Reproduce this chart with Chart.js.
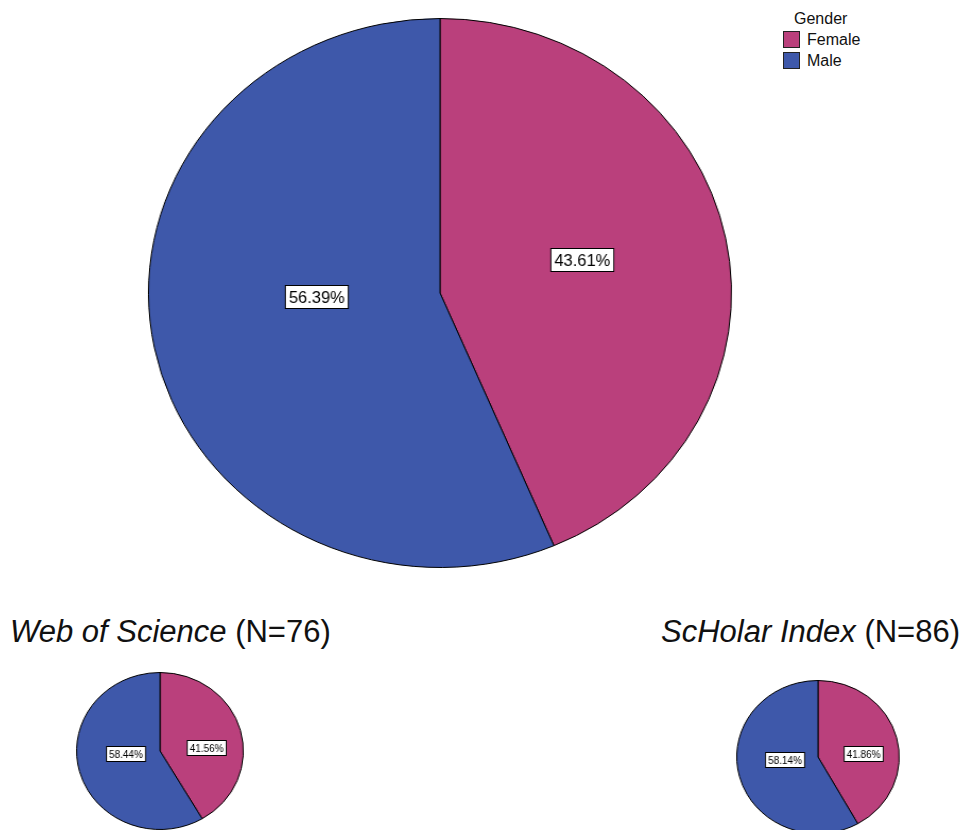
<!DOCTYPE html>
<html>
<head>
<meta charset="utf-8">
<script src="https://cdn.jsdelivr.net/npm/chart.js@4.4.0/dist/chart.umd.min.js"></script>
<style>
  body { margin: 0; background: #fff; font-family: "Liberation Sans", Arial, sans-serif; }
  #stage { position: relative; width: 968px; height: 830px; overflow: hidden; }
  .pie { position: absolute; transform-origin: 50% 50%; }
  .title { position: absolute; font-size: 31px; line-height: 30px; color: #111; white-space: nowrap; }
  #legend { position: absolute; left: 783px; top: 8px; font-size: 16px; color: #111; }
  #legend .hd { margin-left: 11px; height: 21px; line-height: 21px; }
  #legend .row { display: flex; align-items: center; height: 21px; }
  #legend .sw { width: 15px; height: 15px; border: 1px solid #222; margin-right: 7px; }
</style>
</head>
<body>
<div id="stage">
  <canvas id="pieAll"     class="pie" width="550" height="550" style="left:165px;top:18px"></canvas>
  <canvas id="pieWos"     class="pie" width="158" height="158" style="left:81px;top:672px"></canvas>
  <canvas id="pieScholar" class="pie" width="154" height="154" style="left:741px;top:680px"></canvas>
  <div class="title" id="tWos"     style="left:10px;top:617px"></div>
  <div class="title" id="tScholar" style="right:8px;top:617px"></div>
  <div id="legend"></div>
</div>
<script>
// ── Data ──────────────────────────────────────
const LEGEND_TITLE = 'Gender';
const CATEGORIES   = ['Female', 'Male'];
const COLORS       = ['#BA407C', '#3E58AA'];
const ALL_PCT      = [43.61, 56.39];
const WOS_PCT      = [41.56, 58.44];
const SCHOLAR_PCT  = [41.86, 58.14];
const WOS_TITLE    = ['Web of Science', '(N=76)'];
const SCHOLAR_TITLE = ['ScHolar Index', '(N=86)'];

const SX = 1.062;   // pies in the original are slightly wider than tall
const $  = id => document.getElementById(id);

// ── Boxed percentage labels ───────────────────
// label sits at the slice's mid-angle point, nudged by fx / fy per slice
const boxLabels = {
  id: 'boxLabels',
  afterDatasetsDraw(chart, args, opts) {
    const ctx  = chart.ctx;
    const vals = chart.data.datasets[0].data;
    const cx   = (chart.chartArea.left + chart.chartArea.right) / 2;
    const cy   = (chart.chartArea.top + chart.chartArea.bottom) / 2;
    ctx.save();
    ctx.font = `${opts.size}px "Liberation Sans", Arial, sans-serif`;
    ctx.textAlign = 'center';
    ctx.textBaseline = 'middle';
    chart.getDatasetMeta(0).data.forEach((arc, i) => {
      const p   = arc.tooltipPosition();
      const x   = cx + (p.x - cx) * opts.fx[i];
      const y   = cy + (p.y - cy) * opts.fy[i];
      const txt = vals[i].toFixed(2) + '%';
      ctx.save();
      ctx.translate(Math.round(x), Math.round(y));
      ctx.scale(1 / SX, 1);
      const w = Math.round(ctx.measureText(txt).width + opts.padX * 2);
      const h = opts.h;
      ctx.fillStyle = '#fff';
      ctx.fillRect(-w / 2, -h / 2, w, h);
      ctx.strokeStyle = '#000';
      ctx.lineWidth = 1;
      ctx.strokeRect(-w / 2, -h / 2, w, h);
      ctx.fillStyle = '#000';
      ctx.fillText(txt, 0, 1);
      ctx.restore();
    });
    ctx.restore();
  }
};

function makePie(id, values, label) {
  const c = $(id);
  c.style.transform = `scaleX(${SX})`;
  return new Chart(c, {
    type: 'pie',
    data: {
      labels: CATEGORIES,
      datasets: [{ data: values, backgroundColor: COLORS, borderColor: '#000', borderWidth: 1 }]
    },
    options: {
      responsive: false,
      animation: false,
      devicePixelRatio: 1,
      plugins: {
        legend: { display: false },
        tooltip: { enabled: false },
        boxLabels: label
      }
    },
    plugins: [boxLabels]
  });
}

makePie('pieAll',     ALL_PCT,     { size: 16.5, padX: 3.5, h: 23, fx: [1.0, 0.86], fy: [1.2, 0.15] });
makePie('pieWos',     WOS_PCT,     { size: 10,   padX: 2.5, h: 15, fx: [1.15, 0.85], fy: [0.3, 0.3] });
makePie('pieScholar', SCHOLAR_PCT, { size: 10,   padX: 2.5, h: 15, fx: [1.15, 0.85], fy: [0.3, 0.3] });

// ── Titles ────────────────────────────────────
$('tWos').innerHTML     = `<i>${WOS_TITLE[0]}</i> ${WOS_TITLE[1]}`;
$('tScholar').innerHTML = `<i>${SCHOLAR_TITLE[0]}</i> ${SCHOLAR_TITLE[1]}`;

// ── Legend ────────────────────────────────────
$('legend').innerHTML = `<div class="hd">${LEGEND_TITLE}</div>` +
  CATEGORIES.map((c, i) =>
    `<div class="row"><div class="sw" style="background:${COLORS[i]}"></div>${c}</div>`).join('');
</script>
</body>
</html>
